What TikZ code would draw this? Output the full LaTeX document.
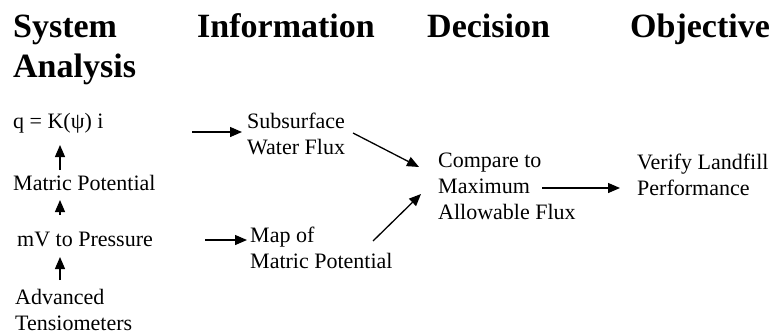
\documentclass[tikz,border=0pt]{standalone}
\usepackage{fontspec}
\setmainfont{Liberation Serif}
\usetikzlibrary{arrows.meta,calc}
\newcommand{\lines}[1]{\begin{tabular}[t]{@{}l@{}}#1\end{tabular}}
\begin{document}
\begin{tikzpicture}[x=1pt,y=-1pt,
  head/.style={anchor=base west,inner sep=0pt,font=\bfseries\fontsize{34}{40}\selectfont},
  txt/.style={anchor=base west,inner sep=0pt,font=\fontsize{22}{26}\selectfont},
  arr/.style={line width=1.3pt,-{Triangle[length=12pt,width=10pt]}}]
\useasboundingbox (0,0) rectangle (775,335);
% headings
\node[head] (sys) at (13,37) {\lines{System\\Analysis}};
\node[head] (inf) at (197,37) {Information};
\node[head] (dec) at (427,37) {Decision};
\node[head] (obj) at (630,37) {Objective};
% left column
\node[txt] (q) at (13,128) {q = K(ψ) i};
\node[txt] (mp) at (13,190) {Matric Potential};
\node[txt] (mv) at (17,246) {mV to Pressure};
\node[txt] (adv) at (15,304) {\lines{Advanced\\Tensiometers}};
% middle
\node[txt] (sub) at (247,128) {\lines{Subsurface\\Water Flux}};
\node[txt] (map) at (250,242) {\lines{Map of\\Matric Potential}};
\node[txt] (cmp) at (438,167) {\lines{Compare to\\Maximum\\Allowable Flux}};
\node[txt] (ver) at (637,169) {\lines{Verify Landfill\\Performance}};
% arrows
\draw[arr] ($(mp.base west)+(47,-20)$) -- ($(q.base west)+(47,17)$);
\draw[arr] ($(mv.base west)+(43,-31)$) -- ($(mp.base west)+(47,10)$);
\draw[arr] ($(adv.base west)+(45,-24)$) -- ($(mv.base west)+(43,11)$);
\draw[arr] ($(q.base west)+(179,4)$) -- ($(sub.base west)+(-5,4)$);
\draw[arr] ($(mv.base west)+(188,-6)$) -- ($(map.base west)+(-3,-2)$);
\draw[arr] ($(sub.base west)+(106,5)$) -- ($(cmp.base west)+(-19,0)$);
\draw[arr] ($(map.base west)+(123,-1)$) -- ($(cmp.base west)+(-17,27)$);
\draw[arr] ($(cmp.base west)+(104,21)$) -- ($(ver.base west)+(-17,19)$);
\end{tikzpicture}
\end{document}
